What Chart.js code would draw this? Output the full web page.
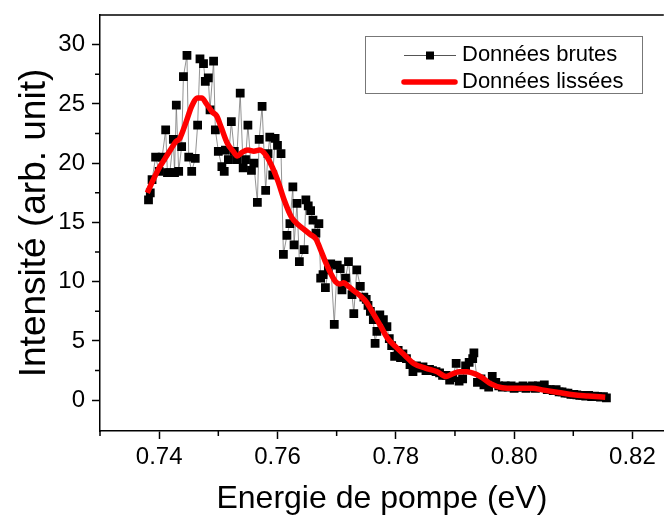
<!DOCTYPE html>
<html>
<head>
<meta charset="utf-8">
<script src="https://cdn.jsdelivr.net/npm/chart.js@4"></script>
<style>
  html, body { margin: 0; padding: 0; overflow: hidden; background: #fff; }
  canvas { display: block; }
</style>
</head>
<body>
<canvas id="chart" width="670" height="518"></canvas>
<script>
// Raw data (eV, arb. unit)
const rawEnergy = [
  0.7382, 0.7385, 0.7388, 0.7394, 0.7400, 0.7405, 0.7411, 0.7414, 0.7418, 0.7424,
  0.7426, 0.7429, 0.7433, 0.7438, 0.7441, 0.7447, 0.7450, 0.7455, 0.7461, 0.7465,
  0.7469, 0.7475, 0.7478, 0.7483, 0.7486, 0.7492, 0.7495, 0.7500, 0.7506, 0.7510,
  0.7512, 0.7517, 0.7522, 0.7527, 0.7531, 0.7537, 0.7542, 0.7546, 0.7550, 0.7556,
  0.7560, 0.7566, 0.7569, 0.7574, 0.7580, 0.7584, 0.7587, 0.7592, 0.7596, 0.7600,
  0.7606, 0.7610, 0.7616, 0.7621, 0.7626, 0.7628, 0.7633, 0.7637, 0.7645, 0.7648,
  0.7652, 0.7656, 0.7660, 0.7665, 0.7670, 0.7673, 0.7677, 0.7681, 0.7686, 0.7690,
  0.7696, 0.7701, 0.7706, 0.7709, 0.7715, 0.7720, 0.7726, 0.7729, 0.7734, 0.7740,
  0.7746, 0.7750, 0.7753, 0.7757, 0.7762, 0.7765, 0.7768, 0.7773, 0.7779, 0.7785,
  0.7789, 0.7793, 0.7798, 0.7804, 0.7808, 0.7812, 0.7818, 0.7824, 0.7829, 0.7835,
  0.7840, 0.7846, 0.7851, 0.7857, 0.7862, 0.7868, 0.7874, 0.7879, 0.7885, 0.7891,
  0.7896, 0.7902, 0.7907, 0.7913, 0.7918, 0.7924, 0.7930, 0.7932, 0.7938, 0.7944,
  0.7949, 0.7954, 0.7957, 0.7963, 0.7969, 0.7974, 0.7980, 0.7985, 0.7990, 0.7995,
  0.8000, 0.8005, 0.8010, 0.8015, 0.8020, 0.8025, 0.8031, 0.8036, 0.8041, 0.8046,
  0.8051, 0.8056, 0.8061, 0.8066, 0.8071, 0.8076, 0.8081, 0.8086, 0.8091, 0.8096,
  0.8101, 0.8106, 0.8111, 0.8116, 0.8121, 0.8126, 0.8131, 0.8136, 0.8141, 0.8146,
  0.8151, 0.8156
];
const rawIntensity = [
  16.9, 17.5, 18.6, 20.5, 19.3, 20.5, 22.8, 19.2, 19.2, 22.0,
  19.2, 24.9, 19.3, 21.4, 27.3, 29.1, 20.5, 19.3, 20.4, 23.2,
  28.8, 28.4, 26.9, 27.2, 24.5, 28.6, 22.8, 21.0, 19.7, 19.3,
  21.1, 20.3, 23.5, 21.0, 20.3, 25.9, 19.6, 20.3, 23.2, 19.4,
  20.0, 16.7, 22.0, 24.8, 17.7, 20.8, 22.2, 19.0, 22.1, 21.5,
  20.8, 12.3, 13.9, 14.9, 18.0, 13.1, 16.6, 11.7, 12.7, 16.9,
  16.4, 16.0, 15.2, 14.1, 14.9, 10.3, 10.6, 9.5, 11.0, 11.5,
  6.4, 11.4, 11.1, 9.3, 10.3, 11.7, 8.9, 7.3, 11.0, 9.6,
  8.7, 8.5, 8.0, 7.5, 6.8, 4.8, 5.8, 7.2, 6.8, 6.2,
  5.2, 4.6, 3.7, 4.2, 3.6, 3.9, 3.5, 3.0, 2.4, 2.9,
  2.7, 2.8, 2.5, 2.6, 2.5, 2.4, 2.3, 2.1, 2.1, 1.7,
  1.9, 3.1, 1.6, 1.8, 2.9, 3.2, 3.5, 4.0, 1.5, 1.8,
  1.3, 1.4, 1.1, 2.0, 1.5, 1.2, 1.1, 1.2, 1.1, 1.2,
  1.0, 1.1, 1.1, 1.2, 1.0, 1.1, 1.2, 1.0, 1.2, 1.1,
  1.3, 0.9, 0.9, 0.8, 0.9, 0.7, 0.7, 0.6, 0.6, 0.5,
  0.5, 0.45, 0.4, 0.4, 0.35, 0.4, 0.3, 0.35, 0.3, 0.25,
  0.3, 0.2
];

// Smoothed data
const smoothEnergy = [
  0.7380, 0.7390, 0.7400, 0.7410, 0.7420, 0.7428, 0.7435, 0.7445, 0.7455, 0.7465,
  0.7472, 0.7480, 0.7490, 0.7497, 0.7505, 0.7515, 0.7525, 0.7532, 0.7540, 0.7550,
  0.7560, 0.7570, 0.7580, 0.7590, 0.7600, 0.7612, 0.7623, 0.7635, 0.7645, 0.7655,
  0.7665, 0.7672, 0.7680, 0.7690, 0.7698, 0.7705, 0.7712, 0.7720, 0.7730, 0.7740,
  0.7750, 0.7762, 0.7775, 0.7785, 0.7800, 0.7815, 0.7830, 0.7850, 0.7870, 0.7885,
  0.7895, 0.7907, 0.7920, 0.7935, 0.7946, 0.7960, 0.7980, 0.8000, 0.8030, 0.8050,
  0.8075, 0.8100, 0.8125, 0.8154
];
const smoothIntensity = [
  17.5, 18.6, 19.6, 20.4, 21.2, 21.8, 22.1, 23.4, 24.8, 25.5,
  25.5, 25.0, 24.3, 24.0, 23.0, 21.7, 21.0, 20.6, 20.9, 21.1,
  21.0, 21.1, 20.7, 19.8, 18.6, 16.8, 15.5, 14.8, 14.4, 14.0,
  13.6, 12.8, 11.8, 10.7, 10.0, 9.8, 9.9, 9.6, 9.2, 8.8,
  8.3, 7.3, 6.2, 5.3, 4.5, 3.8, 3.1, 2.7, 2.4, 2.0,
  2.2, 2.4, 2.4, 2.2, 1.9, 1.4, 1.05, 1.0, 1.0, 0.85,
  0.65, 0.45, 0.35, 0.25
];

const xTicks = [0.74, 0.76, 0.78, 0.80, 0.82];
const xMinorTicks = [0.73, 0.75, 0.77, 0.79, 0.81];
const yTicks = [0, 5, 10, 15, 20, 25, 30];
const yMinorTicks = [2.5, 7.5, 12.5, 17.5, 22.5, 27.5];

const FONT = "'Liberation Sans', Arial, sans-serif";

// frame, minor ticks and legend box
const extras = {
  id: "extras",
  afterDraw(chart) {
    const ctx = chart.ctx;
    const area = chart.chartArea;
    const xs = chart.scales.x, ys = chart.scales.y;
    ctx.save();
    ctx.strokeStyle = "#000";
    ctx.lineWidth = 1.5;
    ctx.beginPath();
    ctx.moveTo(area.left, area.top);
    ctx.lineTo(area.right, area.top);
    xMinorTicks.forEach(v => {
      const px = xs.getPixelForValue(v);
      ctx.moveTo(px, area.bottom);
      ctx.lineTo(px, area.bottom + 5);
    });
    yMinorTicks.forEach(v => {
      const py = ys.getPixelForValue(v);
      ctx.moveTo(area.left, py);
      ctx.lineTo(area.left - 5, py);
    });
    ctx.stroke();

    // legend
    ctx.strokeStyle = "#777";
    ctx.lineWidth = 1;
    ctx.strokeRect(365.5, 36.5, 277, 57);

    ctx.strokeStyle = "#555";
    ctx.lineWidth = 1;
    ctx.beginPath();
    ctx.moveTo(404, 55.5);
    ctx.lineTo(456, 55.5);
    ctx.stroke();
    ctx.fillStyle = "#000";
    ctx.fillRect(426, 51.5, 8, 8);

    ctx.strokeStyle = "#ff0000";
    ctx.lineWidth = 5.5;
    ctx.lineCap = "round";
    ctx.beginPath();
    ctx.moveTo(404, 82);
    ctx.lineTo(455, 82);
    ctx.stroke();

    ctx.fillStyle = "#000";
    ctx.font = "22px " + FONT;
    ctx.textBaseline = "middle";
    ctx.textAlign = "left";
    ctx.fillText("Données brutes", 462, 55);
    ctx.fillText("Données lissées", 462, 82);
    ctx.restore();
  }
};

new Chart(document.getElementById("chart"), {
  type: "line",
  data: {
    datasets: [
      {
        label: "Données lissées",
        data: smoothEnergy.map((e, i) => ({ x: e, y: smoothIntensity[i] })),
        borderColor: "#ff0000",
        borderWidth: 5.5,
        pointRadius: 0,
        tension: 0.4,
        cubicInterpolationMode: "monotone",
        fill: false,
        order: 1
      },
      {
        label: "Données brutes",
        data: rawEnergy.map((e, i) => ({ x: e, y: rawIntensity[i] })),
        borderColor: "#777",
        borderWidth: 0.8,
        pointStyle: "rect",
        pointRadius: 6.2,
        pointBackgroundColor: "#000",
        pointBorderColor: "#000",
        pointBorderWidth: 0,
        tension: 0,
        fill: false,
        order: 2
      }
    ]
  },
  options: {
    responsive: false,
    animation: false,
    devicePixelRatio: 1,
    layout: { padding: { left: 0, top: 15, right: 0, bottom: 0 } },
    plugins: {
      legend: { display: false },
      tooltip: { enabled: false }
    },
    scales: {
      x: {
        type: "linear",
        min: 0.73,
        max: 0.8253,
        border: { color: "#000", width: 1.5 },
        grid: { drawOnChartArea: false, drawTicks: true, tickLength: 8, tickColor: "#000", tickWidth: 1.5 },
        afterBuildTicks: s => { s.ticks = xTicks.map(v => ({ value: v })); },
        afterFit: s => { s.height = 87; s.paddingLeft = 0; s.paddingRight = 0; },
        ticks: {
          color: "#000",
          font: { family: FONT, size: 24 },
          padding: 4,
          maxRotation: 0,
          autoSkip: false,
          callback: v => v.toFixed(2)
        },
        title: {
          display: true,
          text: "Energie de pompe (eV)",
          color: "#000",
          font: { family: FONT, size: 32 },
          padding: { top: 0, bottom: 0 }
        }
      },
      y: {
        min: -2.6,
        max: 32.5,
        border: { color: "#000", width: 1.5 },
        grid: { drawOnChartArea: false, drawTicks: true, tickLength: 8, tickColor: "#000", tickWidth: 1.5 },
        afterBuildTicks: s => { s.ticks = yTicks.map(v => ({ value: v })); },
        afterFit: s => { s.width = 100; s.paddingTop = 0; s.paddingBottom = 0; },
        ticks: {
          color: "#000",
          font: { family: FONT, size: 24 },
          padding: 7,
          autoSkip: false
        },
        title: {
          display: true,
          text: "Intensité (arb. unit)",
          color: "#000",
          font: { family: FONT, size: 37 },
          padding: { top: 13, bottom: 0 }
        }
      }
    }
  },
  plugins: [extras]
});
</script>
</body>
</html>
